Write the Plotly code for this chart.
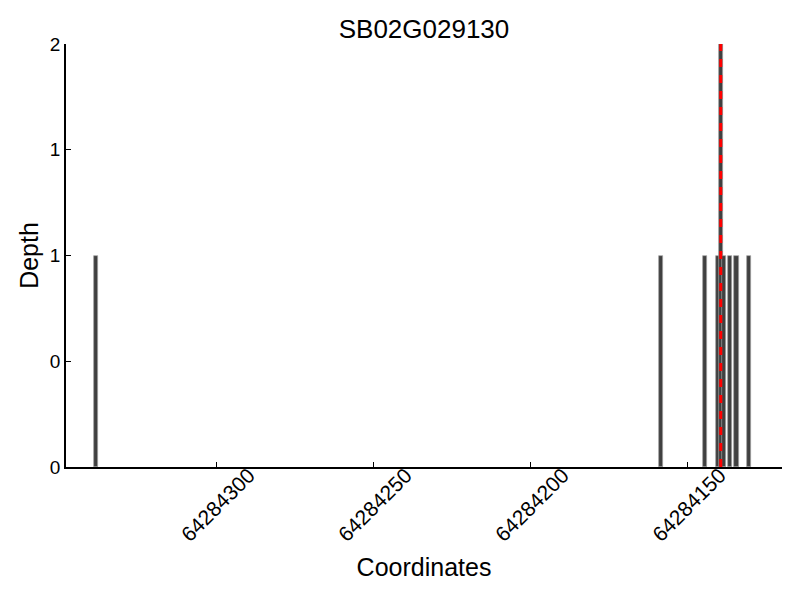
import plotly.graph_objects as go

title = "SB02G029130"
positions = [64284338.5, 64284158.5, 64284144.5, 64284140.5, 64284139.5, 64284138.5,
             64284136.5, 64284134.5, 64284130.5]
depths = [1, 1, 1, 1, 2, 1, 1, 1, 1]
marker_pos = 64284139.5
x_ticks = [64284300, 64284250, 64284200, 64284150]
y_tickvals = [0, 0.5, 1, 1.5, 2]
y_ticktext = ["0", "0", "1", "1", "2"]

fig = go.Figure()
fig.add_trace(go.Bar(
    x=positions, y=depths, width=1.35,
    marker=dict(color="#404040", line=dict(color="#a0a0a0", width=0.7)),
    showlegend=False,
))
fig.add_trace(go.Scatter(
    x=[marker_pos, marker_pos], y=[0, 2], mode="lines",
    line=dict(color="red", width=3, dash="8px,8px"),
    showlegend=False,
))

font = "Liberation Sans, Arial, sans-serif"
# page body has an 8px margin, so figure coordinates are offset by 8px
fig.update_layout(
    width=800, height=600,
    margin=dict(l=58, r=26, t=36, b=141),
    plot_bgcolor="white", paper_bgcolor="white",
    font=dict(family=font, color="black"),
    title=dict(text=title, x=0.5, xref="paper", y=1 - 21 / 600, yref="container",
               yanchor="middle", font=dict(size=26, family=font)),
    bargap=0,
)
fig.update_xaxes(
    range=[64284348, 64284120],
    tickvals=x_ticks, ticktext=[str(v) for v in x_ticks],
    tickangle=-45, tickfont=dict(size=21),
    ticklabelshift=-32, ticklabelstandoff=-14,
    ticks="inside", ticklen=5, tickcolor="black",
    showline=True, linecolor="black", linewidth=1.5,
    showgrid=False, zeroline=False, automargin=False,
    title=dict(text="Coordinates", font=dict(size=25), standoff=14),
)
fig.update_yaxes(
    range=[0, 2],
    tickvals=y_tickvals, ticktext=y_ticktext,
    tickfont=dict(size=19),
    ticks="inside", ticklen=5, tickcolor="black",
    showline=True, linecolor="black", linewidth=1.5,
    showgrid=False, zeroline=False, automargin=False,
    title=dict(text="Depth", font=dict(size=25), standoff=4),
)

fig.write_html("out.html")
